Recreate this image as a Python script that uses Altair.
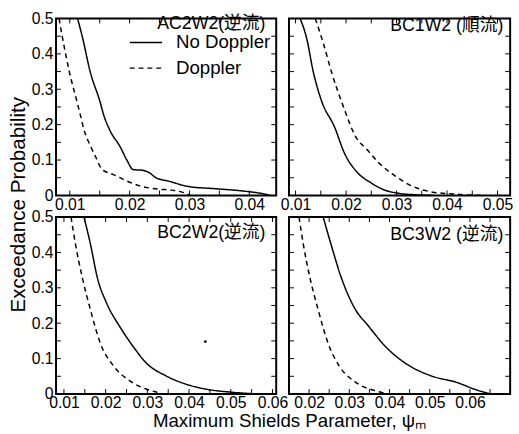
import altair as alt
import pandas as pd
import numpy as np

FONT = "Liberation Sans, Arial, Noto Sans CJK JP, sans-serif"

# ---------------- data ----------------
panel_names = ["AC2W2(逆流)", "BC1W2 (順流)", "BC2W2(逆流)", "BC3W2 (逆流)"]
series_names = ["No Doppler", "Doppler"]

# AC2W2
ac2_nd_x = [0.0113, 0.0121, 0.0134, 0.0151, 0.0156, 0.0167, 0.0184, 0.0195, 0.0206, 0.0222,
            0.0233, 0.0244, 0.0266, 0.0299, 0.0343, 0.0392, 0.0425, 0.0435]
ac2_nd_y = [0.50, 0.448, 0.35, 0.262, 0.231, 0.184, 0.138, 0.101, 0.073, 0.071,
            0.064, 0.050, 0.040, 0.025, 0.019, 0.012, 0.004, 0.0]
ac2_d_x = [0.0082, 0.0088, 0.0099, 0.0112, 0.0118, 0.0124, 0.0135, 0.0143, 0.0154, 0.0173,
           0.0195, 0.0217, 0.0250, 0.0270, 0.0290, 0.0302]
ac2_d_y = [0.50, 0.444, 0.351, 0.265, 0.225, 0.184, 0.138, 0.110, 0.073, 0.059,
           0.041, 0.027, 0.0175, 0.015, 0.008, 0.0]

# BC1W2
bc1_nd_x = [0.0109, 0.0122, 0.0135, 0.0152, 0.0177, 0.0197, 0.0223, 0.0249, 0.0275, 0.0304, 0.0336, 0.0375]
bc1_nd_y = [0.50, 0.444, 0.35, 0.265, 0.194, 0.119, 0.064, 0.036, 0.016, 0.006, 0.002, 0.0]
bc1_d_x = [0.0139, 0.0155, 0.0172, 0.0195, 0.0219, 0.0242, 0.0265, 0.0297, 0.0330, 0.0369, 0.0414, 0.0447, 0.0473]
bc1_d_y = [0.50, 0.43, 0.345, 0.25, 0.166, 0.129, 0.092, 0.055, 0.027, 0.010, 0.004, 0.001, 0.0]

# BC2W2
bc2_nd_x = [0.0148, 0.0164, 0.0180, 0.0203, 0.0234, 0.0266, 0.0297, 0.0345, 0.0392, 0.0439, 0.0502, 0.0565]
bc2_nd_y = [0.50, 0.421, 0.329, 0.255, 0.190, 0.134, 0.088, 0.051, 0.028, 0.014, 0.005, 0.0]
bc2_d_x = [0.0117, 0.0128, 0.0144, 0.0164, 0.0187, 0.0219, 0.0258, 0.0297, 0.0329, 0.0338]
bc2_d_y = [0.50, 0.421, 0.329, 0.236, 0.144, 0.079, 0.037, 0.014, 0.003, 0.0]
bc2_speck_x = [0.0439]
bc2_speck_y = [0.148]

# BC3W2
bc3_nd_x = [0.0235, 0.0255, 0.0280, 0.0312, 0.0349, 0.0390, 0.0438, 0.0504, 0.0569, 0.0610, 0.0642, 0.0655]
bc3_nd_y = [0.50, 0.421, 0.329, 0.245, 0.190, 0.134, 0.088, 0.051, 0.032, 0.014, 0.003, 0.0]
bc3_d_x = [0.0175, 0.0186, 0.0202, 0.0223, 0.0247, 0.0275, 0.0316, 0.0365, 0.0398]
bc3_d_y = [0.50, 0.421, 0.329, 0.236, 0.144, 0.079, 0.033, 0.009, 0.0]

# axis ranges and labels
x_domains = [[0.0077, 0.0445], [0.0087, 0.0525], [0.0081, 0.0609], [0.0150, 0.0700]]
x_label_vals = [[0.01, 0.02, 0.03, 0.04], [0.01, 0.02, 0.03, 0.04, 0.05],
                [0.01, 0.02, 0.03, 0.04, 0.05, 0.06], [0.02, 0.03, 0.04, 0.05, 0.06]]
y_label_vals = [0, 0.1, 0.2, 0.3, 0.4, 0.5]
y_domain = [0, 0.5]

# ---------------- layout / style ----------------
WIDTHS = [224, 225, 224, 225]
H = 180
TICK = 5
TITLE_POS = [(11, 5.5), (7, 8), (11, 16), (7, 18)]  # (inset from right, y)


def make_panel(i, nd_x, nd_y, d_x, d_y, speck=None):
    W = WIDTHS[i]
    left = i in (0, 2)
    bottom_left = i == 2
    top_left = i == 0
    df = pd.concat([
        pd.DataFrame({"x": nd_x, "y": nd_y, "series": series_names[0]}),
        pd.DataFrame({"x": d_x, "y": d_y, "series": series_names[1]}),
    ], ignore_index=True)

    xaxis_kw = dict(values=x_label_vals[i], format=".2f", ticks=False, tickSize=0, domain=False,
                    grid=False, labelFont=FONT, labelFontSize=16, labelPadding=1,
                    labelFlush=False, labelOverlap=False, labelColor="black")
    if bottom_left:
        xaxis_kw.update(title="Maximum Shields Parameter,  ψₘ", titleFont=FONT, titleFontSize=19,
                        titleFontWeight="normal", titleColor="black", titleX=237, titleY=18,
                        titleAlign="center", titleBaseline="top")
    else:
        xaxis_kw.update(title=None)
    xaxis = alt.Axis(**xaxis_kw)

    if left:
        yaxis_kw = dict(values=y_label_vals, ticks=False, tickSize=0, domain=False, grid=False,
                        labelFont=FONT, labelFontSize=16, labelPadding=3, labelFlush=False,
                        labelOverlap=False, labelColor="black",
                        labelExpr="datum.value == 0 ? '0' : format(datum.value, '.1f')")
        if top_left:
            yaxis_kw.update(title="Exceedance Probability", titleFont=FONT, titleFontSize=21,
                            titleFontWeight="normal", titleColor="black", titleX=-38, titleY=189,
                            titleAngle=270, titleAlign="center", titleBaseline="middle")
        else:
            yaxis_kw.update(title=None)
        yaxis = alt.Axis(**yaxis_kw)
    else:
        yaxis = None

    def X(field="x"):
        return alt.X(f"{field}:Q", scale=alt.Scale(domain=x_domains[i], nice=False, zero=False), axis=xaxis)

    def Y(field="y"):
        return alt.Y(f"{field}:Q", scale=alt.Scale(domain=y_domain, nice=False, zero=False), axis=yaxis)

    if top_left:
        legend = alt.Legend(title=None, orient="none", legendX=82, legendY=15, padding=0,
                            symbolType="M-3,0H3", symbolSize=121, symbolStrokeWidth=1.5,
                            symbolStrokeColor="black", symbolFillColor="transparent",
                            labelFont=FONT, labelFontSize=19, labelColor="black",
                            labelOffset=21, rowPadding=6)
    else:
        legend = None

    lines = alt.Chart(df).mark_line(color="black", strokeWidth=1.5, clip=True,
                                    interpolate="monotone").encode(
        x=X(), y=Y(),
        strokeDash=alt.StrokeDash("series:N", sort=series_names,
                                  scale=alt.Scale(domain=series_names, range=[[1, 0], [5, 4]]),
                                  legend=legend),
        detail="series:N",
    )

    # inward tick marks on all four sides
    x0, x1 = x_domains[i]
    xt = np.round(np.arange(np.ceil(x0 / 0.005) * 0.005, x1 + 1e-9, 0.005), 4)
    yt = np.round(np.arange(0.05, 0.5, 0.05), 3)
    xt_df = pd.DataFrame({"x": xt})
    yt_df = pd.DataFrame({"y": yt})
    tick_style = dict(color="black", strokeWidth=1)
    t_top = alt.Chart(xt_df).mark_rule(**tick_style).encode(x=X(), y=alt.value(0), y2=alt.value(TICK))
    t_bot = alt.Chart(xt_df).mark_rule(**tick_style).encode(x=X(), y=alt.value(H - TICK), y2=alt.value(H))
    t_left = alt.Chart(yt_df).mark_rule(**tick_style).encode(y=Y(), x=alt.value(0), x2=alt.value(TICK))
    t_right = alt.Chart(yt_df).mark_rule(**tick_style).encode(y=Y(), x=alt.value(W - TICK), x2=alt.value(W))

    inset, ty = TITLE_POS[i]
    title = alt.Chart(pd.DataFrame({"t": [panel_names[i]]})).mark_text(
        align="right", baseline="middle", font=FONT, fontSize=18, color="black"
    ).encode(text="t:N", x=alt.value(W - inset), y=alt.value(ty))

    layers = [lines, t_top, t_bot, t_left, t_right, title]
    if speck is not None:
        sp = alt.Chart(pd.DataFrame({"x": speck[0], "y": speck[1]})).mark_point(
            filled=True, color="black", size=8, opacity=1).encode(x=X(), y=Y())
        layers.append(sp)
    return alt.layer(*layers).properties(width=W, height=H)


p1 = make_panel(0, ac2_nd_x, ac2_nd_y, ac2_d_x, ac2_d_y)
p2 = make_panel(1, bc1_nd_x, bc1_nd_y, bc1_d_x, bc1_d_y)
p3 = make_panel(2, bc2_nd_x, bc2_nd_y, bc2_d_x, bc2_d_y, speck=(bc2_speck_x, bc2_speck_y))
p4 = make_panel(3, bc3_nd_x, bc3_nd_y, bc3_d_x, bc3_d_y)

chart = alt.concat(p1, p2, p3, p4, columns=2, spacing={"row": 22, "column": 13}, bounds="flush").properties(
    padding={"left": 7, "top": 6, "right": 5, "bottom": 5}, background="white"
).configure_view(stroke="black", strokeWidth=2)

chart.save("out.html", embed_options={"renderer": "svg", "actions": False})
